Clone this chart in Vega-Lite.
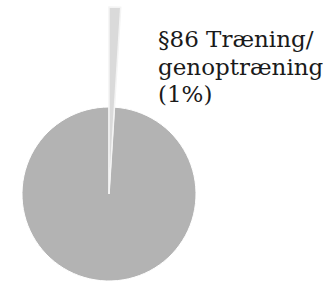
{
  "$schema": "https://vega.github.io/schema/vega-lite/v6.json",
  "width": 218,
  "height": 174,
  "padding": {"left": 0, "top": 107, "right": 105, "bottom": 1},
  "autosize": {"type": "none"},
  "background": "white",
  "view": {"stroke": null},
  "data": {
    "values": [
      {"category": "§86 Træning/genoptræning", "share": 1, "label": "§86 Træning/\ngenoptræning\n(1%)"},
      {"category": "Øvrige", "share": 99, "label": ""}
    ]
  },
  "transform": [
    {"stack": "share", "groupby": [], "as": ["s0", "s1"], "sort": [{"field": "share", "order": "ascending"}]}
  ],
  "encoding": {
    "theta": {"field": "s0", "type": "quantitative", "scale": {"domain": [0, 100]}},
    "theta2": {"field": "s1"}
  },
  "layer": [
    {
      "transform": [{"filter": "datum.category == 'Øvrige'"}],
      "mark": {"type": "arc", "stroke": "white", "strokeWidth": 1, "outerRadius": 87, "fill": "#b3b3b3"},
      "encoding": {}
    },
    {
      "transform": [{"filter": "datum.category != 'Øvrige'"}],
      "mark": {"type": "arc", "stroke": "#f4f4f4", "strokeWidth": 1.5, "outerRadius": 187, "fill": "#dadada"},
      "encoding": {}
    },
    {
      "transform": [{"filter": "datum.category != 'Øvrige'"}],
      "mark": {
        "type": "text",
        "font": "DejaVu Serif",
        "fontSize": 23,
        "align": "left",
        "baseline": "alphabetic",
        "lineBreak": "\n",
        "lineHeight": 27.5,
        "dx": 49,
        "dy": -1,
        "color": "#1a1a1a"
      },
      "encoding": {
        "radius": {"value": 146},
        "text": {"field": "label"}
      }
    }
  ]
}
